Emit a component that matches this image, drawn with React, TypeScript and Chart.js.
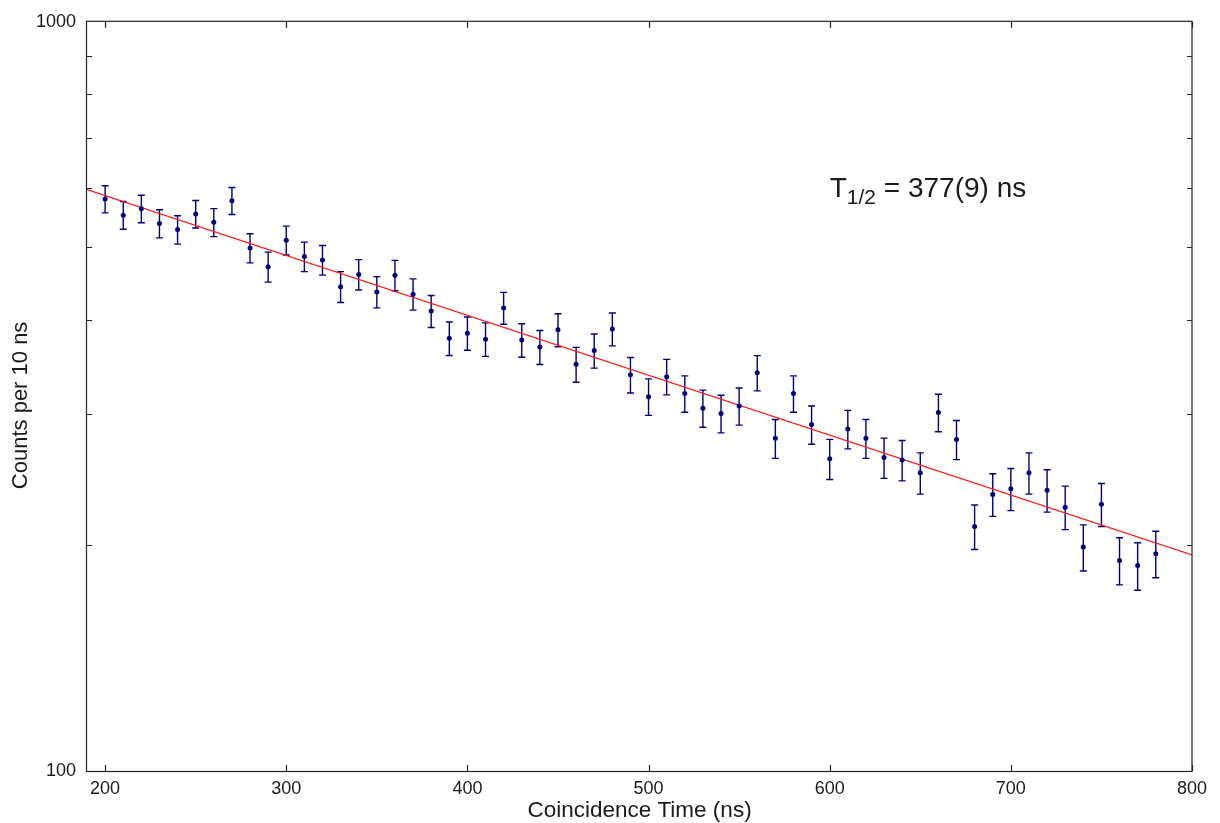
import React, { useEffect, useRef } from 'react';
import { Chart, registerables } from 'chart.js';

Chart.register(...registerables);

// ---- Data ----
const times = [
  200, 210, 220, 230, 240, 250, 260, 270, 280, 290,
  300, 310, 320, 330, 340, 350, 360, 370, 380, 390,
  400, 410, 420, 430, 440, 450, 460, 470, 480, 490,
  500, 510, 520, 530, 540, 550, 560, 570, 580, 590,
  600, 610, 620, 630, 640, 650, 660, 670, 680, 690,
  700, 710, 720, 730, 740, 750, 760, 770, 780,
];
const counts = [
  580, 552, 563, 538, 528, 554, 540, 577, 499, 471,
  511, 486, 481, 443, 460, 436, 459, 433, 411, 378,
  384, 377, 415, 376, 368, 388, 349, 364, 389, 338,
  316, 336, 319, 305, 300, 307, 340, 278, 319, 290,
  261, 286, 278, 262, 260, 250, 301, 277, 212, 234,
  238, 250, 237, 225, 199, 227, 191, 188, 195,
];
const errors = [
  24.1, 23.5, 23.7, 23.2, 23.0, 23.5, 23.2, 24.0, 22.3, 21.7,
  22.6, 22.0, 21.9, 21.0, 21.4, 20.9, 21.4, 20.8, 20.2, 19.4,
  19.6, 19.4, 20.3, 19.4, 19.2, 19.7, 18.7, 19.1, 19.7, 18.4,
  17.7, 18.3, 17.8, 17.4, 17.3, 17.5, 18.4, 16.6, 17.8, 17.0,
  16.1, 16.9, 16.6, 16.2, 16.1, 15.8, 17.3, 16.6, 14.5, 15.3,
  15.4, 15.8, 15.4, 15.0, 14.1, 15.0, 13.8, 13.7, 13.9,
];
const fitTimes = [190, 800];
const fitCounts = [597, 194.3];

const xTicks = [200, 300, 400, 500, 600, 700, 800];
const yTicks = [100, 200, 300, 400, 500, 600, 700, 800, 900, 1000];
const yLabels = [100, 1000];

const xTitle = 'Coincidence Time (ns)';
const yTitle = 'Counts per 10 ns';
const annMain = 'T';
const annSub = '1/2';
const annRest = ' = 377(9) ns';
const annX = 600;
const annY = 583;

const FONT = '"Liberation Sans", Arial, Helvetica, sans-serif';
const NAVY = '#000080';
const TEXT = '#1a1a1a';

const errorBarPlugin = {
  id: 'errorBars',
  beforeDatasetsDraw(chart: any) {
    const { ctx, scales } = chart;
    const x = scales.x;
    const y = scales.y;
    ctx.save();
    ctx.strokeStyle = NAVY;
    ctx.lineWidth = 1.4;
    times.forEach((t, i) => {
      const px = x.getPixelForValue(t);
      const top = y.getPixelForValue(counts[i] + errors[i]);
      const bot = y.getPixelForValue(counts[i] - errors[i]);
      ctx.beginPath();
      ctx.moveTo(px, top);
      ctx.lineTo(px, bot);
      ctx.moveTo(px - 3.5, top);
      ctx.lineTo(px + 3.5, top);
      ctx.moveTo(px - 3.5, bot);
      ctx.lineTo(px + 3.5, bot);
      ctx.stroke();
    });
    ctx.restore();
  },
};

const framePlugin = {
  id: 'frame',
  afterDraw(chart: any) {
    const { ctx, chartArea, scales } = chart;
    const { left, right, top, bottom } = chartArea;
    const x = scales.x;
    const y = scales.y;
    ctx.save();
    ctx.strokeStyle = '#222';
    ctx.lineWidth = 1.2;
    ctx.strokeRect(left - 0.5, top - 0.5, right - left + 0.5, bottom - top + 1);
    ctx.beginPath();
    xTicks.forEach((v) => {
      const px = Math.round(x.getPixelForValue(v)) + 0.5;
      ctx.moveTo(px, bottom);
      ctx.lineTo(px, bottom - 6);
      ctx.moveTo(px, top);
      ctx.lineTo(px, top + 6);
    });
    yTicks.forEach((v) => {
      if (v === 100 || v === 1000) return;
      const py = Math.round(y.getPixelForValue(v)) + 0.5;
      ctx.moveTo(left, py);
      ctx.lineTo(left + 5, py);
      ctx.moveTo(right, py);
      ctx.lineTo(right - 5, py);
    });
    ctx.stroke();

    // y-axis title
    ctx.fillStyle = TEXT;
    ctx.font = `22px ${FONT}`;
    ctx.textAlign = 'center';
    ctx.textBaseline = 'middle';
    ctx.translate(21, (top + bottom) / 2 + 9);
    ctx.rotate(-Math.PI / 2);
    ctx.fillText(yTitle, 0, 0);
    ctx.restore();

    // annotation
    ctx.save();
    ctx.fillStyle = TEXT;
    ctx.textBaseline = 'alphabetic';
    ctx.textAlign = 'left';
    let ax = x.getPixelForValue(annX);
    const ay = y.getPixelForValue(annY);
    ctx.font = `28px ${FONT}`;
    ctx.fillText(annMain, ax, ay);
    ax += ctx.measureText(annMain).width;
    ctx.font = `21px ${FONT}`;
    ctx.fillText(annSub, ax, ay + 7);
    ax += ctx.measureText(annSub).width;
    ctx.font = `28px ${FONT}`;
    ctx.fillText(annRest, ax, ay);
    ctx.restore();
  },
};

export default function App() {
  const canvasRef = useRef<HTMLCanvasElement | null>(null);

  useEffect(() => {
    const canvas = canvasRef.current;
    if (!canvas) return;
    const points = times.map((t, i) => ({ x: t, y: counts[i] }));
    const fit = fitTimes.map((t, i) => ({ x: t, y: fitCounts[i] }));

    const chart = new Chart(canvas, {
      type: 'scatter',
      data: {
        datasets: [
          {
            type: 'scatter',
            data: points,
            pointRadius: 2.5,
            pointBackgroundColor: NAVY,
            pointBorderWidth: 0,
            order: 1,
          } as any,
          {
            type: 'line',
            data: fit,
            borderColor: '#ff1a1a',
            borderWidth: 1.2,
            pointRadius: 0,
            fill: false,
            order: 2,
          } as any,
        ],
      },
      options: {
        animation: false,
        responsive: false,
        devicePixelRatio: 1,
        layout: { padding: { left: 0, right: 28, top: 19, bottom: 0 } },
        plugins: {
          legend: { display: false },
          tooltip: { enabled: false },
        },
        scales: {
          x: {
            type: 'linear',
            min: 190,
            max: 800,
            grid: { display: false, drawTicks: false },
            border: { display: false },
            ticks: {
              autoSkip: false,
              maxRotation: 0,
              padding: 7,
              color: TEXT,
              font: { size: 18, family: FONT },
              callback: (v: any) => String(v),
            },
            afterBuildTicks: (s: any) => {
              s.ticks = xTicks.map((v) => ({ value: v }));
            },
            afterFit: (s: any) => {
              s.height = 52;
            },
            title: {
              display: true,
              text: xTitle,
              color: TEXT,
              padding: 0,
              font: { size: 22.5, family: FONT, lineHeight: 1.05 },
            },
          },
          y: {
            type: 'logarithmic',
            min: 100,
            max: 1000,
            grid: { display: false, drawTicks: false },
            border: { display: false },
            ticks: {
              autoSkip: false,
              padding: 11,
              color: TEXT,
              font: { size: 18, family: FONT },
              callback: (v: any) => (yLabels.includes(Number(v)) ? String(v) : ''),
            },
            afterBuildTicks: (s: any) => {
              s.ticks = yTicks.map((v) => ({ value: v }));
            },
            afterFit: (s: any) => {
              s.width = 87;
            },
          },
        },
      } as any,
      plugins: [errorBarPlugin, framePlugin],
    });
    return () => chart.destroy();
  }, []);

  return (
    <div style={{ position: 'absolute', left: 0, top: 0, width: 1220, height: 823, background: '#fff' }}>
      <canvas ref={canvasRef} width={1220} height={823} style={{ display: 'block' }} />
    </div>
  );
}
